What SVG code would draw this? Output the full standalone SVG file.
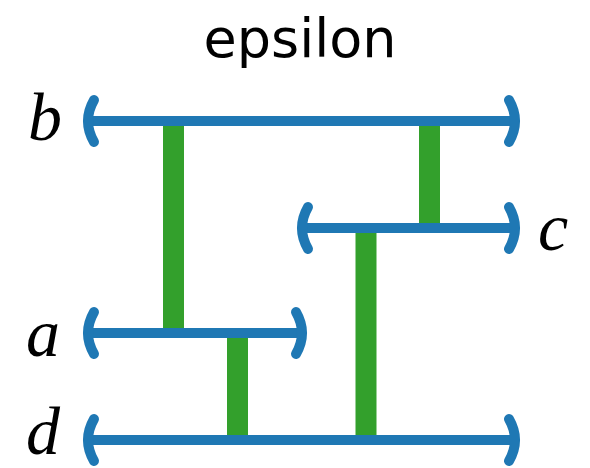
<svg xmlns="http://www.w3.org/2000/svg" width="590" height="468" viewBox="0 0 590 468">
  <style>
    .title { font-family: "DejaVu Sans", sans-serif; font-size: 54px; fill: #000; }
    .lbl { font-family: "Liberation Serif", serif; font-style: italic; font-size: 68px; fill: #000; }
    .rung { stroke: #33a02c; stroke-width: 21; fill: none; }
    .rail { stroke: #1f78b4; stroke-width: 10; fill: none; }
    .cap { stroke: #1f78b4; stroke-width: 10; fill: none; stroke-linecap: round; }
  </style>
  <rect width="590" height="468" fill="#fff"/>
  <text class="title" x="300" y="57" text-anchor="middle">epsilon</text>

  <!-- vertical links between rails -->
  <g id="connectors">
    <line class="rung" x1="173.5" y1="121" x2="173.5" y2="333"/>
    <line class="rung" x1="429.5" y1="121" x2="429.5" y2="228"/>
    <line class="rung" x1="366" y1="228" x2="366" y2="440"/>
    <line class="rung" x1="237.5" y1="333" x2="237.5" y2="440"/>
  </g>

  <g id="b">
    <line class="rail" x1="88" y1="121" x2="515" y2="121"/>
    <path class="cap" d="M94,100 Q82,121 94,142"/>
    <path class="cap" d="M509,100 Q521,121 509,142"/>
    <text class="lbl" x="28" y="140">b</text>
  </g>

  <g id="c">
    <line class="rail" x1="302" y1="228" x2="515" y2="228"/>
    <path class="cap" d="M308,207 Q296,228 308,249"/>
    <path class="cap" d="M509,207 Q521,228 509,249"/>
    <text class="lbl" x="538" y="250">c</text>
  </g>

  <g id="a">
    <line class="rail" x1="88" y1="333" x2="302" y2="333"/>
    <path class="cap" d="M94,312 Q82,333 94,354"/>
    <path class="cap" d="M296,312 Q308,333 296,354"/>
    <text class="lbl" x="26" y="356">a</text>
  </g>

  <g id="d">
    <line class="rail" x1="88" y1="440" x2="515" y2="440"/>
    <path class="cap" d="M94,419 Q82,440 94,461"/>
    <path class="cap" d="M509,419 Q521,440 509,461"/>
    <text class="lbl" x="26" y="454">d</text>
  </g>
</svg>
